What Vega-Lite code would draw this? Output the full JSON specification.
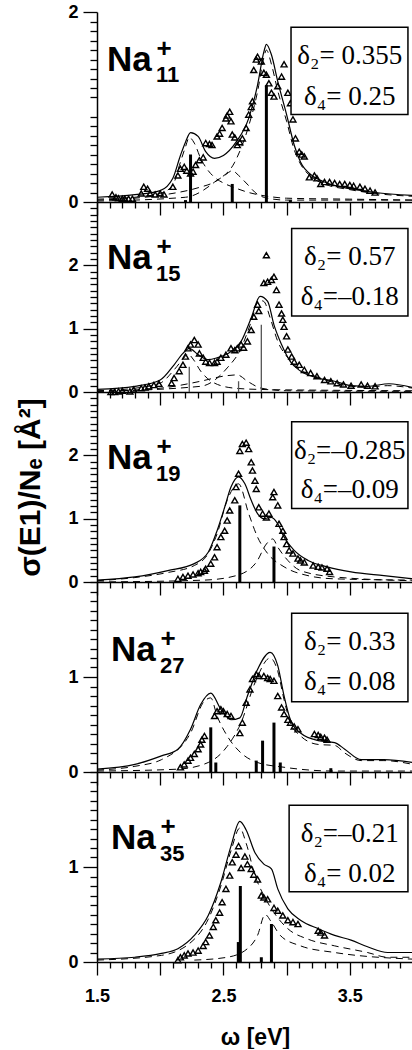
{
"$schema":"https://vega.github.io/schema/vega-lite/v6.json",
"background":"white",
"padding":{"left":15,"top":3,"right":0,"bottom":0},
"spacing":0,
"bounds":"flush",
"config":{"view":{"stroke":null,"fill":null},
"axis":{"grid":false,"domainColor":"black","domainWidth":1.5,"tickColor":"black","tickWidth":1.3,"labelColor":"black","labelFont":"Liberation Sans","labelFontSize":18,"labelFontWeight":"bold","titleColor":"black","titleFont":"Liberation Sans, DejaVu Sans","titleFontWeight":"bold","labelOverlap":false}},
"datasets":{
"curves":[
{"p":1,"s":"t","x":1.5,"y":0.05},{"p":1,"s":"t","x":1.8,"y":0.077},{"p":1,"s":"t","x":2.0,"y":0.12},{"p":1,"s":"t","x":2.1,"y":0.25},{"p":1,"s":"t","x":2.16,"y":0.49},{"p":1,"s":"t","x":2.2,"y":0.63},{"p":1,"s":"t","x":2.24,"y":0.73},{"p":1,"s":"t","x":2.3,"y":0.69},{"p":1,"s":"t","x":2.36,"y":0.53},{"p":1,"s":"t","x":2.43,"y":0.46},{"p":1,"s":"t","x":2.5,"y":0.49},{"p":1,"s":"t","x":2.6,"y":0.63},{"p":1,"s":"t","x":2.7,"y":0.88},{"p":1,"s":"t","x":2.77,"y":1.23},{"p":1,"s":"t","x":2.82,"y":1.58},{"p":1,"s":"t","x":2.84,"y":1.66},{"p":1,"s":"t","x":2.88,"y":1.55},{"p":1,"s":"t","x":2.93,"y":1.27},{"p":1,"s":"t","x":3.0,"y":0.92},{"p":1,"s":"t","x":3.06,"y":0.6},{"p":1,"s":"t","x":3.11,"y":0.42},{"p":1,"s":"t","x":3.2,"y":0.28},{"p":1,"s":"t","x":3.3,"y":0.21},{"p":1,"s":"t","x":3.5,"y":0.14},{"p":1,"s":"t","x":3.7,"y":0.1},{"p":1,"s":"t","x":4.0,"y":0.07},
{"p":1,"s":"a","x":1.5,"y":0.03},{"p":1,"s":"a","x":1.8,"y":0.05},{"p":1,"s":"a","x":2.0,"y":0.09},{"p":1,"s":"a","x":2.1,"y":0.18},{"p":1,"s":"a","x":2.16,"y":0.42},{"p":1,"s":"a","x":2.2,"y":0.58},{"p":1,"s":"a","x":2.23,"y":0.68},{"p":1,"s":"a","x":2.27,"y":0.62},{"p":1,"s":"a","x":2.32,"y":0.46},{"p":1,"s":"a","x":2.38,"y":0.33},{"p":1,"s":"a","x":2.43,"y":0.26},{"p":1,"s":"a","x":2.5,"y":0.2},{"p":1,"s":"a","x":2.59,"y":0.15},{"p":1,"s":"a","x":2.7,"y":0.1},{"p":1,"s":"a","x":2.85,"y":0.06},{"p":1,"s":"a","x":3.0,"y":0.04},{"p":1,"s":"a","x":3.5,"y":0.03},{"p":1,"s":"a","x":4.0,"y":0.02},
{"p":1,"s":"b","x":1.5,"y":0.02},{"p":1,"s":"b","x":2.0,"y":0.07},{"p":1,"s":"b","x":2.3,"y":0.15},{"p":1,"s":"b","x":2.43,"y":0.21},{"p":1,"s":"b","x":2.52,"y":0.29},{"p":1,"s":"b","x":2.57,"y":0.33},{"p":1,"s":"b","x":2.62,"y":0.28},{"p":1,"s":"b","x":2.68,"y":0.2},{"p":1,"s":"b","x":2.77,"y":0.08},{"p":1,"s":"b","x":2.85,"y":0.04},{"p":1,"s":"b","x":3.0,"y":0.02},{"p":1,"s":"b","x":4.0,"y":0.02},
{"p":1,"s":"c","x":1.5,"y":0.01},{"p":1,"s":"c","x":2.2,"y":0.05},{"p":1,"s":"c","x":2.43,"y":0.21},{"p":1,"s":"c","x":2.59,"y":0.42},{"p":1,"s":"c","x":2.7,"y":0.8},{"p":1,"s":"c","x":2.77,"y":1.16},{"p":1,"s":"c","x":2.82,"y":1.52},{"p":1,"s":"c","x":2.84,"y":1.6},{"p":1,"s":"c","x":2.88,"y":1.45},{"p":1,"s":"c","x":2.93,"y":1.17},{"p":1,"s":"c","x":3.0,"y":0.85},{"p":1,"s":"c","x":3.06,"y":0.55},{"p":1,"s":"c","x":3.11,"y":0.4},{"p":1,"s":"c","x":3.2,"y":0.26},{"p":1,"s":"c","x":3.3,"y":0.19},{"p":1,"s":"c","x":3.5,"y":0.13},{"p":1,"s":"c","x":3.7,"y":0.09},{"p":1,"s":"c","x":4.0,"y":0.06},
{"p":2,"s":"t","x":1.5,"y":0.04},{"p":2,"s":"t","x":1.8,"y":0.09},{"p":2,"s":"t","x":2.0,"y":0.19},{"p":2,"s":"t","x":2.11,"y":0.43},{"p":2,"s":"t","x":2.18,"y":0.61},{"p":2,"s":"t","x":2.23,"y":0.69},{"p":2,"s":"t","x":2.3,"y":0.59},{"p":2,"s":"t","x":2.38,"y":0.51},{"p":2,"s":"t","x":2.45,"y":0.54},{"p":2,"s":"t","x":2.56,"y":0.64},{"p":2,"s":"t","x":2.64,"y":0.8},{"p":2,"s":"t","x":2.72,"y":1.17},{"p":2,"s":"t","x":2.79,"y":1.51},{"p":2,"s":"t","x":2.85,"y":1.43},{"p":2,"s":"t","x":2.9,"y":1.06},{"p":2,"s":"t","x":2.96,"y":0.75},{"p":2,"s":"t","x":3.03,"y":0.48},{"p":2,"s":"t","x":3.11,"y":0.33},{"p":2,"s":"t","x":3.25,"y":0.22},{"p":2,"s":"t","x":3.38,"y":0.17},{"p":2,"s":"t","x":3.51,"y":0.1},{"p":2,"s":"t","x":3.64,"y":0.09},{"p":2,"s":"t","x":3.81,"y":0.13},{"p":2,"s":"t","x":4.0,"y":0.07},
{"p":2,"s":"a","x":1.5,"y":0.02},{"p":2,"s":"a","x":1.8,"y":0.06},{"p":2,"s":"a","x":2.0,"y":0.14},{"p":2,"s":"a","x":2.11,"y":0.35},{"p":2,"s":"a","x":2.18,"y":0.52},{"p":2,"s":"a","x":2.22,"y":0.6},{"p":2,"s":"a","x":2.26,"y":0.52},{"p":2,"s":"a","x":2.32,"y":0.33},{"p":2,"s":"a","x":2.43,"y":0.14},{"p":2,"s":"a","x":2.59,"y":0.06},{"p":2,"s":"a","x":2.8,"y":0.04},{"p":2,"s":"a","x":3.2,"y":0.03},{"p":2,"s":"a","x":4.0,"y":0.02},
{"p":2,"s":"b","x":1.5,"y":0.01},{"p":2,"s":"b","x":2.0,"y":0.06},{"p":2,"s":"b","x":2.32,"y":0.17},{"p":2,"s":"b","x":2.5,"y":0.25},{"p":2,"s":"b","x":2.61,"y":0.27},{"p":2,"s":"b","x":2.69,"y":0.17},{"p":2,"s":"b","x":2.8,"y":0.06},{"p":2,"s":"b","x":3.0,"y":0.02},{"p":2,"s":"b","x":4.0,"y":0.01},
{"p":2,"s":"c","x":1.5,"y":0.01},{"p":2,"s":"c","x":2.32,"y":0.09},{"p":2,"s":"c","x":2.53,"y":0.38},{"p":2,"s":"c","x":2.64,"y":0.69},{"p":2,"s":"c","x":2.72,"y":1.11},{"p":2,"s":"c","x":2.78,"y":1.45},{"p":2,"s":"c","x":2.82,"y":1.43},{"p":2,"s":"c","x":2.87,"y":1.17},{"p":2,"s":"c","x":2.93,"y":0.8},{"p":2,"s":"c","x":3.01,"y":0.54},{"p":2,"s":"c","x":3.11,"y":0.35},{"p":2,"s":"c","x":3.27,"y":0.22},{"p":2,"s":"c","x":3.51,"y":0.09},{"p":2,"s":"c","x":3.65,"y":0.08},{"p":2,"s":"c","x":3.8,"y":0.1},{"p":2,"s":"c","x":4.0,"y":0.06},
{"p":3,"s":"t","x":1.5,"y":0.03},{"p":3,"s":"t","x":1.8,"y":0.08},{"p":3,"s":"t","x":2.06,"y":0.18},{"p":3,"s":"t","x":2.27,"y":0.29},{"p":3,"s":"t","x":2.38,"y":0.47},{"p":3,"s":"t","x":2.45,"y":0.81},{"p":3,"s":"t","x":2.51,"y":1.18},{"p":3,"s":"t","x":2.56,"y":1.5},{"p":3,"s":"t","x":2.62,"y":1.66},{"p":3,"s":"t","x":2.67,"y":1.55},{"p":3,"s":"t","x":2.72,"y":1.29},{"p":3,"s":"t","x":2.77,"y":1.08},{"p":3,"s":"t","x":2.82,"y":1.0},{"p":3,"s":"t","x":2.88,"y":1.02},{"p":3,"s":"t","x":2.93,"y":0.92},{"p":3,"s":"t","x":2.98,"y":0.71},{"p":3,"s":"t","x":3.06,"y":0.5},{"p":3,"s":"t","x":3.17,"y":0.34},{"p":3,"s":"t","x":3.32,"y":0.24},{"p":3,"s":"t","x":3.51,"y":0.16},{"p":3,"s":"t","x":3.77,"y":0.1},{"p":3,"s":"t","x":4.0,"y":0.05},
{"p":3,"s":"a","x":1.5,"y":0.02},{"p":3,"s":"a","x":1.8,"y":0.07},{"p":3,"s":"a","x":2.06,"y":0.15},{"p":3,"s":"a","x":2.27,"y":0.26},{"p":3,"s":"a","x":2.38,"y":0.45},{"p":3,"s":"a","x":2.45,"y":0.76},{"p":3,"s":"a","x":2.53,"y":1.29},{"p":3,"s":"a","x":2.62,"y":1.55},{"p":3,"s":"a","x":2.7,"y":1.08},{"p":3,"s":"a","x":2.77,"y":0.71},{"p":3,"s":"a","x":2.85,"y":0.45},{"p":3,"s":"a","x":2.98,"y":0.24},{"p":3,"s":"a","x":3.17,"y":0.1},{"p":3,"s":"a","x":3.38,"y":0.05},{"p":3,"s":"a","x":4.0,"y":0.03},
{"p":3,"s":"b","x":1.5,"y":0.0},{"p":3,"s":"b","x":2.35,"y":0.03},{"p":3,"s":"b","x":2.6,"y":0.1},{"p":3,"s":"b","x":2.76,"y":0.31},{"p":3,"s":"b","x":2.84,"y":0.6},{"p":3,"s":"b","x":2.89,"y":0.68},{"p":3,"s":"b","x":2.93,"y":0.55},{"p":3,"s":"b","x":3.01,"y":0.34},{"p":3,"s":"b","x":3.11,"y":0.18},{"p":3,"s":"b","x":3.38,"y":0.08},{"p":3,"s":"b","x":4.0,"y":0.02},
{"p":4,"s":"t","x":1.5,"y":0.03},{"p":4,"s":"t","x":1.8,"y":0.08},{"p":4,"s":"t","x":2.01,"y":0.17},{"p":4,"s":"t","x":2.14,"y":0.24},{"p":4,"s":"t","x":2.24,"y":0.45},{"p":4,"s":"t","x":2.32,"y":0.71},{"p":4,"s":"t","x":2.4,"y":0.83},{"p":4,"s":"t","x":2.48,"y":0.66},{"p":4,"s":"t","x":2.56,"y":0.55},{"p":4,"s":"t","x":2.63,"y":0.57},{"p":4,"s":"t","x":2.69,"y":0.8},{"p":4,"s":"t","x":2.77,"y":1.08},{"p":4,"s":"t","x":2.87,"y":1.26},{"p":4,"s":"t","x":2.93,"y":1.12},{"p":4,"s":"t","x":2.98,"y":0.8},{"p":4,"s":"t","x":3.03,"y":0.55},{"p":4,"s":"t","x":3.11,"y":0.41},{"p":4,"s":"t","x":3.25,"y":0.33},{"p":4,"s":"t","x":3.38,"y":0.31},{"p":4,"s":"t","x":3.46,"y":0.24},{"p":4,"s":"t","x":3.59,"y":0.13},{"p":4,"s":"t","x":3.77,"y":0.13},{"p":4,"s":"t","x":4.0,"y":0.1},
{"p":4,"s":"a","x":1.5,"y":0.02},{"p":4,"s":"a","x":1.8,"y":0.06},{"p":4,"s":"a","x":2.01,"y":0.13},{"p":4,"s":"a","x":2.24,"y":0.41},{"p":4,"s":"a","x":2.34,"y":0.73},{"p":4,"s":"a","x":2.4,"y":0.78},{"p":4,"s":"a","x":2.45,"y":0.59},{"p":4,"s":"a","x":2.53,"y":0.38},{"p":4,"s":"a","x":2.64,"y":0.2},{"p":4,"s":"a","x":2.77,"y":0.1},{"p":4,"s":"a","x":2.98,"y":0.05},{"p":4,"s":"a","x":3.38,"y":0.01},{"p":4,"s":"a","x":4.0,"y":0.01},
{"p":4,"s":"b","x":1.5,"y":0.01},{"p":4,"s":"b","x":2.14,"y":0.03},{"p":4,"s":"b","x":2.38,"y":0.1},{"p":4,"s":"b","x":2.53,"y":0.27},{"p":4,"s":"b","x":2.64,"y":0.52},{"p":4,"s":"b","x":2.75,"y":0.94},{"p":4,"s":"b","x":2.87,"y":1.2},{"p":4,"s":"b","x":2.93,"y":1.06},{"p":4,"s":"b","x":2.98,"y":0.76},{"p":4,"s":"b","x":3.03,"y":0.52},{"p":4,"s":"b","x":3.11,"y":0.38},{"p":4,"s":"b","x":3.25,"y":0.29},{"p":4,"s":"b","x":3.38,"y":0.28},{"p":4,"s":"b","x":3.46,"y":0.2},{"p":4,"s":"b","x":3.59,"y":0.12},{"p":4,"s":"b","x":3.77,"y":0.12},{"p":4,"s":"b","x":4.0,"y":0.08},
{"p":5,"s":"t","x":1.5,"y":0.03},{"p":5,"s":"t","x":1.8,"y":0.05},{"p":5,"s":"t","x":2.01,"y":0.09},{"p":5,"s":"t","x":2.14,"y":0.14},{"p":5,"s":"t","x":2.27,"y":0.28},{"p":5,"s":"t","x":2.38,"y":0.49},{"p":5,"s":"t","x":2.48,"y":0.84},{"p":5,"s":"t","x":2.56,"y":1.22},{"p":5,"s":"t","x":2.63,"y":1.48},{"p":5,"s":"t","x":2.68,"y":1.39},{"p":5,"s":"t","x":2.75,"y":1.15},{"p":5,"s":"t","x":2.82,"y":1.03},{"p":5,"s":"t","x":2.88,"y":0.98},{"p":5,"s":"t","x":2.93,"y":0.77},{"p":5,"s":"t","x":3.01,"y":0.56},{"p":5,"s":"t","x":3.11,"y":0.44},{"p":5,"s":"t","x":3.25,"y":0.35},{"p":5,"s":"t","x":3.38,"y":0.28},{"p":5,"s":"t","x":3.51,"y":0.23},{"p":5,"s":"t","x":3.64,"y":0.16},{"p":5,"s":"t","x":3.8,"y":0.1},{"p":5,"s":"t","x":4.0,"y":0.1},
{"p":5,"s":"a","x":1.5,"y":0.02},{"p":5,"s":"a","x":2.01,"y":0.07},{"p":5,"s":"a","x":2.27,"y":0.24},{"p":5,"s":"a","x":2.38,"y":0.45},{"p":5,"s":"a","x":2.48,"y":0.8},{"p":5,"s":"a","x":2.56,"y":1.17},{"p":5,"s":"a","x":2.63,"y":1.41},{"p":5,"s":"a","x":2.68,"y":1.25},{"p":5,"s":"a","x":2.75,"y":0.91},{"p":5,"s":"a","x":2.82,"y":0.7},{"p":5,"s":"a","x":2.9,"y":0.52},{"p":5,"s":"a","x":3.01,"y":0.35},{"p":5,"s":"a","x":3.17,"y":0.24},{"p":5,"s":"a","x":3.38,"y":0.17},{"p":5,"s":"a","x":3.64,"y":0.1},{"p":5,"s":"a","x":3.8,"y":0.05},{"p":5,"s":"a","x":4.0,"y":0.05},
{"p":5,"s":"b","x":2.27,"y":0.02},{"p":5,"s":"b","x":2.53,"y":0.05},{"p":5,"s":"b","x":2.69,"y":0.14},{"p":5,"s":"b","x":2.77,"y":0.28},{"p":5,"s":"b","x":2.83,"y":0.5},{"p":5,"s":"b","x":2.88,"y":0.42},{"p":5,"s":"b","x":2.95,"y":0.28},{"p":5,"s":"b","x":3.11,"y":0.17},{"p":5,"s":"b","x":3.38,"y":0.1},{"p":5,"s":"b","x":4.0,"y":0.03}
],
"exp":[
{"p":1,"x":1.62,"y":0.08},{"p":1,"x":1.65,"y":0.05},{"p":1,"x":1.67,"y":0.04},{"p":1,"x":1.7,"y":0.035},{"p":1,"x":1.72,"y":0.035},{"p":1,"x":1.75,"y":0.035},{"p":1,"x":1.78,"y":0.035},{"p":1,"x":1.85,"y":0.09},{"p":1,"x":1.87,"y":0.16},{"p":1,"x":1.9,"y":0.14},{"p":1,"x":1.92,"y":0.09},{"p":1,"x":1.96,"y":0.08},{"p":1,"x":2.0,"y":0.09},{"p":1,"x":2.03,"y":0.08},{"p":1,"x":2.1,"y":0.16},{"p":1,"x":2.14,"y":0.28},{"p":1,"x":2.16,"y":0.35},{"p":1,"x":2.19,"y":0.37},{"p":1,"x":2.21,"y":0.33},{"p":1,"x":2.24,"y":0.3},{"p":1,"x":2.26,"y":0.32},{"p":1,"x":2.28,"y":0.39},{"p":1,"x":2.31,"y":0.44},{"p":1,"x":2.34,"y":0.47},{"p":1,"x":2.36,"y":0.62},{"p":1,"x":2.39,"y":0.61},{"p":1,"x":2.41,"y":0.6},{"p":1,"x":2.45,"y":0.69},{"p":1,"x":2.47,"y":0.72},{"p":1,"x":2.49,"y":0.78},{"p":1,"x":2.52,"y":0.88},{"p":1,"x":2.53,"y":0.91},{"p":1,"x":2.55,"y":0.95},{"p":1,"x":2.56,"y":0.85},{"p":1,"x":2.57,"y":0.71},{"p":1,"x":2.59,"y":0.68},{"p":1,"x":2.61,"y":0.6},{"p":1,"x":2.63,"y":0.63},{"p":1,"x":2.65,"y":0.67},{"p":1,"x":2.68,"y":0.78},{"p":1,"x":2.7,"y":0.92},{"p":1,"x":2.72,"y":1.0},{"p":1,"x":2.73,"y":1.06},{"p":1,"x":2.74,"y":1.39},{"p":1,"x":2.76,"y":1.5},{"p":1,"x":2.77,"y":1.53},{"p":1,"x":2.8,"y":1.48},{"p":1,"x":2.82,"y":1.36},{"p":1,"x":2.84,"y":1.34},{"p":1,"x":2.86,"y":1.25},{"p":1,"x":2.88,"y":1.15},{"p":1,"x":2.9,"y":1.11},{"p":1,"x":2.93,"y":1.22},{"p":1,"x":2.96,"y":1.32},{"p":1,"x":2.98,"y":1.45},{"p":1,"x":3.01,"y":1.15},{"p":1,"x":3.03,"y":1.04},{"p":1,"x":3.05,"y":0.87},{"p":1,"x":3.07,"y":0.67},{"p":1,"x":3.1,"y":0.53},{"p":1,"x":3.12,"y":0.5},{"p":1,"x":3.14,"y":0.48},{"p":1,"x":3.18,"y":0.26},{"p":1,"x":3.22,"y":0.28},{"p":1,"x":3.24,"y":0.25},{"p":1,"x":3.27,"y":0.19},{"p":1,"x":3.3,"y":0.21},{"p":1,"x":3.34,"y":0.21},{"p":1,"x":3.38,"y":0.2},{"p":1,"x":3.42,"y":0.19},{"p":1,"x":3.46,"y":0.19},{"p":1,"x":3.5,"y":0.18},{"p":1,"x":3.53,"y":0.17},{"p":1,"x":3.58,"y":0.16},{"p":1,"x":3.62,"y":0.14},{"p":1,"x":3.66,"y":0.12},{"p":1,"x":3.7,"y":0.1},
{"p":2,"x":1.61,"y":0.0},{"p":2,"x":1.64,"y":0.0},{"p":2,"x":1.67,"y":0.01},{"p":2,"x":1.7,"y":0.02},{"p":2,"x":1.76,"y":0.01},{"p":2,"x":1.79,"y":0.04},{"p":2,"x":1.85,"y":0.06},{"p":2,"x":1.88,"y":0.07},{"p":2,"x":1.91,"y":0.09},{"p":2,"x":1.95,"y":0.11},{"p":2,"x":1.99,"y":0.13},{"p":2,"x":2.09,"y":0.14},{"p":2,"x":2.11,"y":0.22},{"p":2,"x":2.15,"y":0.33},{"p":2,"x":2.18,"y":0.43},{"p":2,"x":2.2,"y":0.56},{"p":2,"x":2.22,"y":0.69},{"p":2,"x":2.24,"y":0.75},{"p":2,"x":2.27,"y":0.82},{"p":2,"x":2.3,"y":0.75},{"p":2,"x":2.31,"y":0.61},{"p":2,"x":2.34,"y":0.54},{"p":2,"x":2.36,"y":0.48},{"p":2,"x":2.39,"y":0.46},{"p":2,"x":2.43,"y":0.46},{"p":2,"x":2.45,"y":0.48},{"p":2,"x":2.48,"y":0.54},{"p":2,"x":2.52,"y":0.59},{"p":2,"x":2.56,"y":0.69},{"p":2,"x":2.59,"y":0.66},{"p":2,"x":2.61,"y":0.69},{"p":2,"x":2.64,"y":0.75},{"p":2,"x":2.66,"y":0.7},{"p":2,"x":2.69,"y":0.8},{"p":2,"x":2.72,"y":0.98},{"p":2,"x":2.74,"y":1.19},{"p":2,"x":2.77,"y":1.38},{"p":2,"x":2.78,"y":1.28},{"p":2,"x":2.82,"y":1.72},{"p":2,"x":2.84,"y":2.16},{"p":2,"x":2.85,"y":1.74},{"p":2,"x":2.88,"y":1.77},{"p":2,"x":2.9,"y":1.82},{"p":2,"x":2.92,"y":1.61},{"p":2,"x":2.94,"y":1.38},{"p":2,"x":2.96,"y":1.24},{"p":2,"x":2.97,"y":1.14},{"p":2,"x":2.98,"y":1.03},{"p":2,"x":3.0,"y":0.88},{"p":2,"x":3.01,"y":0.67},{"p":2,"x":3.04,"y":0.56},{"p":2,"x":3.06,"y":0.48},{"p":2,"x":3.1,"y":0.43},{"p":2,"x":3.14,"y":0.35},{"p":2,"x":3.19,"y":0.3},{"p":2,"x":3.24,"y":0.25},{"p":2,"x":3.3,"y":0.19},{"p":2,"x":3.35,"y":0.17},{"p":2,"x":3.4,"y":0.14},{"p":2,"x":3.45,"y":0.12},{"p":2,"x":3.51,"y":0.1},{"p":2,"x":3.59,"y":0.12},{"p":2,"x":3.64,"y":0.1},{"p":2,"x":3.7,"y":0.09},
{"p":3,"x":2.14,"y":0.05},{"p":3,"x":2.18,"y":0.08},{"p":3,"x":2.22,"y":0.1},{"p":3,"x":2.26,"y":0.12},{"p":3,"x":2.3,"y":0.14},{"p":3,"x":2.32,"y":0.16},{"p":3,"x":2.35,"y":0.18},{"p":3,"x":2.36,"y":0.21},{"p":3,"x":2.4,"y":0.29},{"p":3,"x":2.43,"y":0.39},{"p":3,"x":2.45,"y":0.55},{"p":3,"x":2.48,"y":0.71},{"p":3,"x":2.51,"y":0.81},{"p":3,"x":2.53,"y":0.97},{"p":3,"x":2.55,"y":1.13},{"p":3,"x":2.59,"y":1.29},{"p":3,"x":2.6,"y":1.5},{"p":3,"x":2.62,"y":1.71},{"p":3,"x":2.63,"y":2.07},{"p":3,"x":2.65,"y":2.18},{"p":3,"x":2.68,"y":2.2},{"p":3,"x":2.7,"y":2.1},{"p":3,"x":2.72,"y":1.89},{"p":3,"x":2.73,"y":1.76},{"p":3,"x":2.75,"y":1.6},{"p":3,"x":2.76,"y":1.47},{"p":3,"x":2.78,"y":1.18},{"p":3,"x":2.81,"y":1.08},{"p":3,"x":2.84,"y":1.02},{"p":3,"x":2.86,"y":1.08},{"p":3,"x":2.89,"y":1.34},{"p":3,"x":2.9,"y":1.42},{"p":3,"x":2.93,"y":1.21},{"p":3,"x":2.94,"y":0.92},{"p":3,"x":2.97,"y":0.81},{"p":3,"x":2.98,"y":0.71},{"p":3,"x":3.0,"y":0.6},{"p":3,"x":3.02,"y":0.5},{"p":3,"x":3.05,"y":0.45},{"p":3,"x":3.09,"y":0.37},{"p":3,"x":3.11,"y":0.34},{"p":3,"x":3.14,"y":0.31},{"p":3,"x":3.21,"y":0.26},{"p":3,"x":3.25,"y":0.24},{"p":3,"x":3.28,"y":0.23},{"p":3,"x":3.32,"y":0.21},{"p":3,"x":3.34,"y":0.16},
{"p":4,"x":2.16,"y":0.05},{"p":4,"x":2.19,"y":0.08},{"p":4,"x":2.22,"y":0.12},{"p":4,"x":2.24,"y":0.15},{"p":4,"x":2.27,"y":0.19},{"p":4,"x":2.3,"y":0.24},{"p":4,"x":2.32,"y":0.29},{"p":4,"x":2.33,"y":0.34},{"p":4,"x":2.35,"y":0.38},{"p":4,"x":2.43,"y":0.59},{"p":4,"x":2.45,"y":0.64},{"p":4,"x":2.48,"y":0.66},{"p":4,"x":2.5,"y":0.64},{"p":4,"x":2.53,"y":0.61},{"p":4,"x":2.56,"y":0.59},{"p":4,"x":2.63,"y":0.41},{"p":4,"x":2.65,"y":0.52},{"p":4,"x":2.68,"y":0.73},{"p":4,"x":2.71,"y":0.87},{"p":4,"x":2.73,"y":0.98},{"p":4,"x":2.76,"y":1.03},{"p":4,"x":2.78,"y":1.01},{"p":4,"x":2.82,"y":1.01},{"p":4,"x":2.85,"y":0.99},{"p":4,"x":2.87,"y":0.98},{"p":4,"x":2.9,"y":0.96},{"p":4,"x":2.93,"y":0.8},{"p":4,"x":2.96,"y":0.68},{"p":4,"x":2.98,"y":0.61},{"p":4,"x":3.01,"y":0.55},{"p":4,"x":3.03,"y":0.52},{"p":4,"x":3.06,"y":0.48},{"p":4,"x":3.09,"y":0.45},{"p":4,"x":3.22,"y":0.4},{"p":4,"x":3.25,"y":0.39},{"p":4,"x":3.27,"y":0.37},{"p":4,"x":3.3,"y":0.36},{"p":4,"x":3.32,"y":0.34},
{"p":5,"x":2.14,"y":0.02},{"p":5,"x":2.16,"y":0.05},{"p":5,"x":2.19,"y":0.07},{"p":5,"x":2.22,"y":0.09},{"p":5,"x":2.26,"y":0.1},{"p":5,"x":2.3,"y":0.12},{"p":5,"x":2.34,"y":0.17},{"p":5,"x":2.36,"y":0.21},{"p":5,"x":2.39,"y":0.28},{"p":5,"x":2.42,"y":0.37},{"p":5,"x":2.44,"y":0.44},{"p":5,"x":2.47,"y":0.52},{"p":5,"x":2.49,"y":0.63},{"p":5,"x":2.52,"y":0.77},{"p":5,"x":2.55,"y":0.91},{"p":5,"x":2.57,"y":1.05},{"p":5,"x":2.6,"y":1.13},{"p":5,"x":2.62,"y":1.22},{"p":5,"x":2.64,"y":0.99},{"p":5,"x":2.67,"y":1.11},{"p":5,"x":2.69,"y":1.03},{"p":5,"x":2.72,"y":0.98},{"p":5,"x":2.74,"y":0.92},{"p":5,"x":2.77,"y":0.87},{"p":5,"x":2.8,"y":0.7},{"p":5,"x":2.82,"y":0.68},{"p":5,"x":2.85,"y":0.66},{"p":5,"x":2.9,"y":0.57},{"p":5,"x":2.93,"y":0.54},{"p":5,"x":2.97,"y":0.49},{"p":5,"x":3.01,"y":0.44},{"p":5,"x":3.05,"y":0.42},{"p":5,"x":3.09,"y":0.4},{"p":5,"x":3.25,"y":0.33},{"p":5,"x":3.27,"y":0.31},{"p":5,"x":3.3,"y":0.28}
],
"sticks":[
{"p":1,"x":2.24,"y":0.5},{"p":1,"x":2.57,"y":0.19},{"p":1,"x":2.84,"y":1.23},{"p":1,"x":2.2,"y":0.02},{"p":1,"x":3.03,"y":0.02},
{"p":2,"x":2.23,"y":0.4},{"p":2,"x":2.62,"y":0.17},{"p":2,"x":2.8,"y":1.06},
{"p":3,"x":2.63,"y":1.21},{"p":3,"x":2.9,"y":0.56},
{"p":4,"x":2.4,"y":0.47},{"p":4,"x":2.44,"y":0.1},{"p":4,"x":2.76,"y":0.12},{"p":4,"x":2.81,"y":0.33},{"p":4,"x":2.9,"y":0.52},{"p":4,"x":2.95,"y":0.1},{"p":4,"x":3.35,"y":0.04},
{"p":5,"x":2.618,"y":0.21},{"p":5,"x":2.634,"y":0.8},{"p":5,"x":2.88,"y":0.4},{"p":5,"x":2.8,"y":0.05}
],
"labels":[
{"p":1,"x":1.579,"y":1.376,"sub":"11"},{"p":2,"x":1.579,"y":1.94,"sub":"15"},{"p":3,"x":1.579,"y":1.79,"sub":"19"},{"p":4,"x":1.611,"y":1.17,"sub":"27"},{"p":5,"x":1.611,"y":1.19,"sub":"35"}
],
"boxes":[
{"p":1,"x":3.035,"x2":3.96,"y":1.84,"y2":0.92},{"p":2,"x":3.04,"x2":3.96,"y":2.58,"y2":1.2},{"p":3,"x":3.04,"x2":3.96,"y":2.53,"y2":1.16},{"p":4,"x":3.04,"x2":3.96,"y":1.67,"y2":0.74},{"p":5,"x":3.02,"x2":3.96,"y":1.65,"y2":0.74}
],
"deltas":[
{"p":1,"x":3.5,"y":1.45,"t":"δ₂= 0.355"},{"p":1,"x":3.5,"y":1.025,"t":"δ₄= 0.25"},
{"p":2,"x":3.5,"y":2.0,"t":"δ₂= 0.57"},{"p":2,"x":3.5,"y":1.37,"t":"δ₄=–0.18"},
{"p":3,"x":3.5,"y":1.95,"t":"δ₂=–0.285"},{"p":3,"x":3.5,"y":1.32,"t":"δ₄=–0.09"},
{"p":4,"x":3.5,"y":1.28,"t":"δ₂= 0.33"},{"p":4,"x":3.5,"y":0.86,"t":"δ₄= 0.08"},
{"p":5,"x":3.5,"y":1.26,"t":"δ₂=–0.21"},{"p":5,"x":3.5,"y":0.84,"t":"δ₄= 0.02"}
]
},
"vconcat":[
{"width":316,"height":190,
"resolve":{"axis":{"x":"independent","y":"independent"}},
"encoding":{"x":{"field":"x","type":"quantitative","scale":{"domain":[1.5,4],"nice":false,"zero":false},"axis":null},"y":{"field":"y","type":"quantitative","scale":{"domain":[0,2],"nice":false},"axis":null}},
"layer":[
{"data":{"name":"curves"},"transform":[{"filter":"datum.p==1 && datum.s=='t'"}],"mark":{"type":"line","color":"black","strokeWidth":1.2,"interpolate":"monotone"},
 "encoding":{"x":{"field":"x","type":"quantitative","scale":{"domain":[1.5,4],"nice":false,"zero":false},"axis":{"orient":"bottom","values":[1.5,2,2.5,3,3.5,4],"labels":false,"title":null,"tickSize":13}},
 "y":{"field":"y","type":"quantitative","scale":{"domain":[0,2],"nice":false},"axis":{"orient":"left","values":[0,1,2],"format":"d","labelPadding":5,"title":null,"tickSize":14}}}},
{"data":{"name":"curves"},"transform":[{"filter":"datum.p==1 && datum.s!='t'"}],"mark":{"type":"line","color":"black","strokeWidth":1,"strokeDash":[7,5],"interpolate":"monotone"},"encoding":{"detail":{"field":"s"}}},
{"data":{"name":"sticks"},"transform":[{"filter":"datum.p==1"}],"mark":{"type":"rule","color":"black","strokeWidth":3},"encoding":{"y2":{"datum":0}}},
{"data":{"name":"exp"},"transform":[{"filter":"datum.p==1"}],"mark":{"type":"point","shape":"triangle-up","filled":false,"color":"black","size":36,"strokeWidth":1.4,"opacity":1},
 "encoding":{"x":{"field":"x","type":"quantitative","scale":{"domain":[1.5,4],"nice":false,"zero":false},"axis":{"orient":"bottom","values":[1.6,1.7,1.8,1.9,2.1,2.2,2.3,2.4,2.6,2.7,2.8,2.9,3.1,3.2,3.3,3.4,3.6,3.7,3.8,3.9],"labels":false,"domain":false,"title":null,"tickSize":6}},
 "y":{"field":"y","type":"quantitative","scale":{"domain":[0,2],"nice":false},"axis":{"orient":"left","values":[0.1,0.2,0.3,0.4,0.5,0.6,0.7,0.8,0.9,1.1,1.2,1.3,1.4,1.5,1.6,1.7,1.8,1.9],"labels":false,"domain":false,"title":null,"tickSize":7}}}},
{"data":{"name":"boxes"},"transform":[{"filter":"datum.p==1"}],"mark":{"type":"rect","fill":"white","stroke":"black","strokeWidth":1.5},"encoding":{"x2":{"field":"x2"},"y2":{"field":"y2"}}},
{"data":{"name":"deltas"},"transform":[{"filter":"datum.p==1"}],"mark":{"type":"text","font":"Liberation Serif, DejaVu Serif","fontSize":27,"align":"center","baseline":"alphabetic","color":"black"},"encoding":{"text":{"field":"t"}}},
{"data":{"name":"labels"},"transform":[{"filter":"datum.p==1"}],"mark":{"type":"text","text":"Na","font":"Liberation Sans","fontWeight":"bold","fontSize":35,"align":"left","baseline":"alphabetic","color":"black"}},
{"data":{"name":"labels"},"transform":[{"filter":"datum.p==1"}],"mark":{"type":"text","text":"+","font":"Liberation Sans","fontWeight":"bold","fontSize":26,"align":"center","baseline":"middle","dx":57,"dy":-22,"color":"black"}},
{"data":{"name":"labels"},"transform":[{"filter":"datum.p==1"}],"mark":{"type":"text","font":"Liberation Sans","fontWeight":"bold","fontSize":22,"align":"left","baseline":"alphabetic","dx":49,"dy":11,"color":"black"},"encoding":{"text":{"field":"sub"}}}
]},
{"width":316,"height":190,
"resolve":{"axis":{"x":"independent","y":"independent"}},
"encoding":{"x":{"field":"x","type":"quantitative","scale":{"domain":[1.5,4],"nice":false,"zero":false},"axis":null},"y":{"field":"y","type":"quantitative","scale":{"domain":[0,3],"nice":false},"axis":null}},
"layer":[
{"data":{"name":"curves"},"transform":[{"filter":"datum.p==2 && datum.s=='t'"}],"mark":{"type":"line","color":"black","strokeWidth":1.2,"interpolate":"monotone"},
 "encoding":{"x":{"field":"x","type":"quantitative","scale":{"domain":[1.5,4],"nice":false,"zero":false},"axis":{"orient":"bottom","values":[1.5,2,2.5,3,3.5,4],"labels":false,"title":null,"tickSize":13}},
 "y":{"field":"y","type":"quantitative","scale":{"domain":[0,3],"nice":false},"axis":{"orient":"left","values":[0,1,2],"format":"d","labelPadding":5,"title":null,"tickSize":14}}}},
{"data":{"name":"curves"},"transform":[{"filter":"datum.p==2 && datum.s!='t'"}],"mark":{"type":"line","color":"black","strokeWidth":1,"strokeDash":[7,5],"interpolate":"monotone"},"encoding":{"detail":{"field":"s"}}},
{"data":{"name":"sticks"},"transform":[{"filter":"datum.p==2"}],"mark":{"type":"rule","color":"#555555","strokeWidth":1.3},"encoding":{"y2":{"datum":0}}},
{"data":{"name":"exp"},"transform":[{"filter":"datum.p==2"}],"mark":{"type":"point","shape":"triangle-up","filled":false,"color":"black","size":36,"strokeWidth":1.4,"opacity":1},
 "encoding":{"x":{"field":"x","type":"quantitative","scale":{"domain":[1.5,4],"nice":false,"zero":false},"axis":{"orient":"bottom","values":[1.6,1.7,1.8,1.9,2.1,2.2,2.3,2.4,2.6,2.7,2.8,2.9,3.1,3.2,3.3,3.4,3.6,3.7,3.8,3.9],"labels":false,"domain":false,"title":null,"tickSize":6}},
 "y":{"field":"y","type":"quantitative","scale":{"domain":[0,3],"nice":false},"axis":{"orient":"left","values":[0.1,0.2,0.3,0.4,0.5,0.6,0.7,0.8,0.9,1.1,1.2,1.3,1.4,1.5,1.6,1.7,1.8,1.9,2.1,2.2,2.3,2.4,2.5,2.6,2.7,2.8,2.9],"labels":false,"domain":false,"title":null,"tickSize":7}}}},
{"data":{"name":"boxes"},"transform":[{"filter":"datum.p==2"}],"mark":{"type":"rect","fill":"white","stroke":"black","strokeWidth":1.5},"encoding":{"x2":{"field":"x2"},"y2":{"field":"y2"}}},
{"data":{"name":"deltas"},"transform":[{"filter":"datum.p==2"}],"mark":{"type":"text","font":"Liberation Serif, DejaVu Serif","fontSize":27,"align":"center","baseline":"alphabetic","color":"black"},"encoding":{"text":{"field":"t"}}},
{"data":{"name":"labels"},"transform":[{"filter":"datum.p==2"}],"mark":{"type":"text","text":"Na","font":"Liberation Sans","fontWeight":"bold","fontSize":35,"align":"left","baseline":"alphabetic","color":"black"}},
{"data":{"name":"labels"},"transform":[{"filter":"datum.p==2"}],"mark":{"type":"text","text":"+","font":"Liberation Sans","fontWeight":"bold","fontSize":26,"align":"center","baseline":"middle","dx":57,"dy":-22,"color":"black"}},
{"data":{"name":"labels"},"transform":[{"filter":"datum.p==2"}],"mark":{"type":"text","font":"Liberation Sans","fontWeight":"bold","fontSize":22,"align":"left","baseline":"alphabetic","dx":49,"dy":12,"color":"black"},"encoding":{"text":{"field":"sub"}}}
]},
{"width":316,"height":190,
"resolve":{"axis":{"x":"independent","y":"independent"}},
"encoding":{"x":{"field":"x","type":"quantitative","scale":{"domain":[1.5,4],"nice":false,"zero":false},"axis":null},"y":{"field":"y","type":"quantitative","scale":{"domain":[0,3],"nice":false},"axis":null}},
"layer":[
{"data":{"name":"curves"},"transform":[{"filter":"datum.p==3 && datum.s=='t'"}],"mark":{"type":"line","color":"black","strokeWidth":1.2,"interpolate":"monotone"},
 "encoding":{"x":{"field":"x","type":"quantitative","scale":{"domain":[1.5,4],"nice":false,"zero":false},"axis":{"orient":"bottom","values":[1.5,2,2.5,3,3.5,4],"labels":false,"title":null,"tickSize":13}},
 "y":{"field":"y","type":"quantitative","scale":{"domain":[0,3],"nice":false},"axis":{"orient":"left","values":[0,1,2],"format":"d","labelPadding":5,"title":"σ(E1)/Nₑ [Å²]","titleFontSize":30,"titlePadding":22,"tickSize":14}}}},
{"data":{"name":"curves"},"transform":[{"filter":"datum.p==3 && datum.s!='t'"}],"mark":{"type":"line","color":"black","strokeWidth":1,"strokeDash":[7,5],"interpolate":"monotone"},"encoding":{"detail":{"field":"s"}}},
{"data":{"name":"sticks"},"transform":[{"filter":"datum.p==3"}],"mark":{"type":"rule","color":"black","strokeWidth":3},"encoding":{"y2":{"datum":0}}},
{"data":{"name":"exp"},"transform":[{"filter":"datum.p==3"}],"mark":{"type":"point","shape":"triangle-up","filled":false,"color":"black","size":36,"strokeWidth":1.4,"opacity":1},
 "encoding":{"x":{"field":"x","type":"quantitative","scale":{"domain":[1.5,4],"nice":false,"zero":false},"axis":{"orient":"bottom","values":[1.6,1.7,1.8,1.9,2.1,2.2,2.3,2.4,2.6,2.7,2.8,2.9,3.1,3.2,3.3,3.4,3.6,3.7,3.8,3.9],"labels":false,"domain":false,"title":null,"tickSize":6}},
 "y":{"field":"y","type":"quantitative","scale":{"domain":[0,3],"nice":false},"axis":{"orient":"left","values":[0.1,0.2,0.3,0.4,0.5,0.6,0.7,0.8,0.9,1.1,1.2,1.3,1.4,1.5,1.6,1.7,1.8,1.9,2.1,2.2,2.3,2.4,2.5,2.6,2.7,2.8,2.9],"labels":false,"domain":false,"title":null,"tickSize":7}}}},
{"data":{"name":"boxes"},"transform":[{"filter":"datum.p==3"}],"mark":{"type":"rect","fill":"white","stroke":"black","strokeWidth":1.5},"encoding":{"x2":{"field":"x2"},"y2":{"field":"y2"}}},
{"data":{"name":"deltas"},"transform":[{"filter":"datum.p==3"}],"mark":{"type":"text","font":"Liberation Serif, DejaVu Serif","fontSize":27,"align":"center","baseline":"alphabetic","color":"black"},"encoding":{"text":{"field":"t"}}},
{"data":{"name":"labels"},"transform":[{"filter":"datum.p==3"}],"mark":{"type":"text","text":"Na","font":"Liberation Sans","fontWeight":"bold","fontSize":35,"align":"left","baseline":"alphabetic","color":"black"}},
{"data":{"name":"labels"},"transform":[{"filter":"datum.p==3"}],"mark":{"type":"text","text":"+","font":"Liberation Sans","fontWeight":"bold","fontSize":26,"align":"center","baseline":"middle","dx":57,"dy":-22,"color":"black"}},
{"data":{"name":"labels"},"transform":[{"filter":"datum.p==3"}],"mark":{"type":"text","font":"Liberation Sans","fontWeight":"bold","fontSize":22,"align":"left","baseline":"alphabetic","dx":49,"dy":12,"color":"black"},"encoding":{"text":{"field":"sub"}}}
]},
{"width":316,"height":190,
"resolve":{"axis":{"x":"independent","y":"independent"}},
"encoding":{"x":{"field":"x","type":"quantitative","scale":{"domain":[1.5,4],"nice":false,"zero":false},"axis":null},"y":{"field":"y","type":"quantitative","scale":{"domain":[0,2],"nice":false},"axis":null}},
"layer":[
{"data":{"name":"curves"},"transform":[{"filter":"datum.p==4 && datum.s=='t'"}],"mark":{"type":"line","color":"black","strokeWidth":1.2,"interpolate":"monotone"},
 "encoding":{"x":{"field":"x","type":"quantitative","scale":{"domain":[1.5,4],"nice":false,"zero":false},"axis":{"orient":"bottom","values":[1.5,2,2.5,3,3.5,4],"labels":false,"title":null,"tickSize":13}},
 "y":{"field":"y","type":"quantitative","scale":{"domain":[0,2],"nice":false},"axis":{"orient":"left","values":[0,1],"format":"d","labelPadding":5,"title":null,"tickSize":14}}}},
{"data":{"name":"curves"},"transform":[{"filter":"datum.p==4 && datum.s!='t'"}],"mark":{"type":"line","color":"black","strokeWidth":1,"strokeDash":[7,5],"interpolate":"monotone"},"encoding":{"detail":{"field":"s"}}},
{"data":{"name":"sticks"},"transform":[{"filter":"datum.p==4"}],"mark":{"type":"rule","color":"black","strokeWidth":3},"encoding":{"y2":{"datum":0}}},
{"data":{"name":"exp"},"transform":[{"filter":"datum.p==4"}],"mark":{"type":"point","shape":"triangle-up","filled":false,"color":"black","size":36,"strokeWidth":1.4,"opacity":1},
 "encoding":{"x":{"field":"x","type":"quantitative","scale":{"domain":[1.5,4],"nice":false,"zero":false},"axis":{"orient":"bottom","values":[1.6,1.7,1.8,1.9,2.1,2.2,2.3,2.4,2.6,2.7,2.8,2.9,3.1,3.2,3.3,3.4,3.6,3.7,3.8,3.9],"labels":false,"domain":false,"title":null,"tickSize":6}},
 "y":{"field":"y","type":"quantitative","scale":{"domain":[0,2],"nice":false},"axis":{"orient":"left","values":[0.1,0.2,0.3,0.4,0.5,0.6,0.7,0.8,0.9,1.1,1.2,1.3,1.4,1.5,1.6,1.7,1.8,1.9,2],"labels":false,"domain":false,"title":null,"tickSize":7}}}},
{"data":{"name":"boxes"},"transform":[{"filter":"datum.p==4"}],"mark":{"type":"rect","fill":"white","stroke":"black","strokeWidth":1.5},"encoding":{"x2":{"field":"x2"},"y2":{"field":"y2"}}},
{"data":{"name":"deltas"},"transform":[{"filter":"datum.p==4"}],"mark":{"type":"text","font":"Liberation Serif, DejaVu Serif","fontSize":27,"align":"center","baseline":"alphabetic","color":"black"},"encoding":{"text":{"field":"t"}}},
{"data":{"name":"labels"},"transform":[{"filter":"datum.p==4"}],"mark":{"type":"text","text":"Na","font":"Liberation Sans","fontWeight":"bold","fontSize":35,"align":"left","baseline":"alphabetic","color":"black"}},
{"data":{"name":"labels"},"transform":[{"filter":"datum.p==4"}],"mark":{"type":"text","text":"+","font":"Liberation Sans","fontWeight":"bold","fontSize":26,"align":"center","baseline":"middle","dx":57,"dy":-22,"color":"black"}},
{"data":{"name":"labels"},"transform":[{"filter":"datum.p==4"}],"mark":{"type":"text","font":"Liberation Sans","fontWeight":"bold","fontSize":22,"align":"left","baseline":"alphabetic","dx":49,"dy":12,"color":"black"},"encoding":{"text":{"field":"sub"}}}
]},
{"width":316,"height":190,
"resolve":{"axis":{"x":"independent","y":"independent"}},
"encoding":{"x":{"field":"x","type":"quantitative","scale":{"domain":[1.5,4],"nice":false,"zero":false},"axis":null},"y":{"field":"y","type":"quantitative","scale":{"domain":[0,2],"nice":false},"axis":null}},
"layer":[
{"data":{"name":"curves"},"transform":[{"filter":"datum.p==5 && datum.s=='t'"}],"mark":{"type":"line","color":"black","strokeWidth":1.2,"interpolate":"monotone"},
 "encoding":{"x":{"field":"x","type":"quantitative","scale":{"domain":[1.5,4],"nice":false,"zero":false},"axis":{"orient":"bottom","values":[1.5,2,2.5,3,3.5,4],"labelExpr":"(abs(datum.value-1.5)<0.01 || abs(datum.value-2.5)<0.01 || abs(datum.value-3.5)<0.01) ? format(datum.value,'.1f') : ''","labelFlush":false,"labelPadding":12,"title":"ω [eV]","titleFontSize":23,"titlePadding":21,"tickSize":13}},
 "y":{"field":"y","type":"quantitative","scale":{"domain":[0,2],"nice":false},"axis":{"orient":"left","values":[0,1],"format":"d","labelPadding":5,"title":null,"tickSize":14}}}},
{"data":{"name":"curves"},"transform":[{"filter":"datum.p==5 && datum.s!='t'"}],"mark":{"type":"line","color":"black","strokeWidth":1,"strokeDash":[7,5],"interpolate":"monotone"},"encoding":{"detail":{"field":"s"}}},
{"data":{"name":"sticks"},"transform":[{"filter":"datum.p==5"}],"mark":{"type":"rule","color":"black","strokeWidth":3},"encoding":{"y2":{"datum":0}}},
{"data":{"name":"exp"},"transform":[{"filter":"datum.p==5"}],"mark":{"type":"point","shape":"triangle-up","filled":false,"color":"black","size":36,"strokeWidth":1.4,"opacity":1},
 "encoding":{"x":{"field":"x","type":"quantitative","scale":{"domain":[1.5,4],"nice":false,"zero":false},"axis":{"orient":"bottom","values":[1.6,1.7,1.8,1.9,2.1,2.2,2.3,2.4,2.6,2.7,2.8,2.9,3.1,3.2,3.3,3.4,3.6,3.7,3.8,3.9],"labels":false,"domain":false,"title":null,"tickSize":6}},
 "y":{"field":"y","type":"quantitative","scale":{"domain":[0,2],"nice":false},"axis":{"orient":"left","values":[0.1,0.2,0.3,0.4,0.5,0.6,0.7,0.8,0.9,1.1,1.2,1.3,1.4,1.5,1.6,1.7,1.8,1.9,2],"labels":false,"domain":false,"title":null,"tickSize":7}}}},
{"data":{"name":"boxes"},"transform":[{"filter":"datum.p==5"}],"mark":{"type":"rect","fill":"white","stroke":"black","strokeWidth":1.5},"encoding":{"x2":{"field":"x2"},"y2":{"field":"y2"}}},
{"data":{"name":"deltas"},"transform":[{"filter":"datum.p==5"}],"mark":{"type":"text","font":"Liberation Serif, DejaVu Serif","fontSize":27,"align":"center","baseline":"alphabetic","color":"black"},"encoding":{"text":{"field":"t"}}},
{"data":{"name":"labels"},"transform":[{"filter":"datum.p==5"}],"mark":{"type":"text","text":"Na","font":"Liberation Sans","fontWeight":"bold","fontSize":35,"align":"left","baseline":"alphabetic","color":"black"}},
{"data":{"name":"labels"},"transform":[{"filter":"datum.p==5"}],"mark":{"type":"text","text":"+","font":"Liberation Sans","fontWeight":"bold","fontSize":26,"align":"center","baseline":"middle","dx":57,"dy":-22,"color":"black"}},
{"data":{"name":"labels"},"transform":[{"filter":"datum.p==5"}],"mark":{"type":"text","font":"Liberation Sans","fontWeight":"bold","fontSize":22,"align":"left","baseline":"alphabetic","dx":49,"dy":12,"color":"black"},"encoding":{"text":{"field":"sub"}}}
]}
]
}
